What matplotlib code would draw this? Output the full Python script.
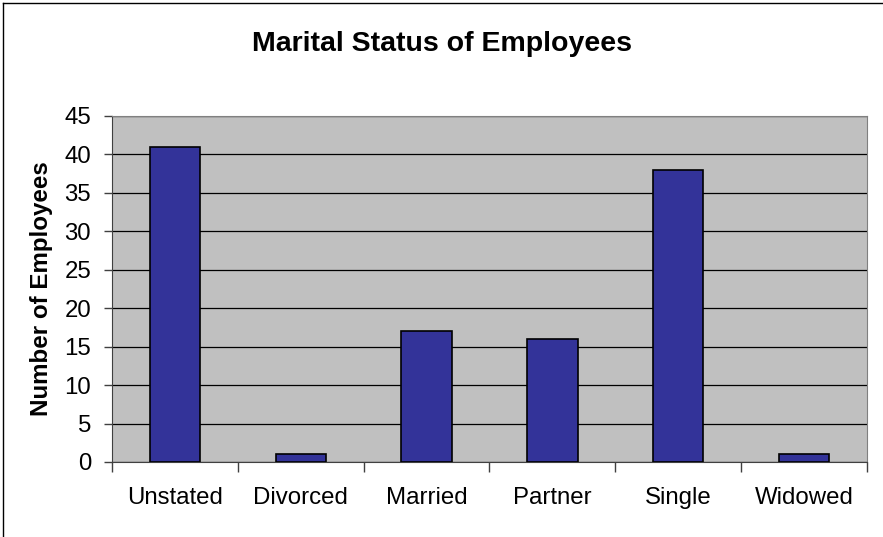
import matplotlib
matplotlib.use('Agg')
import matplotlib.pyplot as plt
import numpy as np

# data
categories = ['Unstated', 'Divorced', 'Married', 'Partner', 'Single', 'Widowed']
employees = [41, 1, 17, 16, 38, 1]
y_ticks = [0, 5, 10, 15, 20, 25, 30, 35, 40, 45]

plt.rcParams['font.family'] = ['Liberation Sans', 'DejaVu Sans']

fig = plt.figure(figsize=(8.83, 5.37), dpi=100)
ax = fig.add_axes([112 / 883, 1 - 462 / 537, 755 / 883, 346 / 537])
ax.set_facecolor('#c0c0c0')

x = np.arange(len(categories))
ax.bar(x, employees, width=0.4, color='#333399', edgecolor='black', linewidth=1.2, zorder=3)

ax.set_xlim(-0.5, len(categories) - 0.5)
ax.set_ylim(0, 45)
ax.set_yticks(y_ticks)
ax.yaxis.grid(True, color='black', linewidth=0.9, zorder=1)

# labels at the centres, tick marks at the borders between categories
ax.set_xticks(x)
ax.set_xticklabels(categories, fontsize=17.3)
ax.set_xticks(np.arange(len(categories) + 1) - 0.5, minor=True)
ax.tick_params(axis='x', which='major', length=0, pad=18)
ax.tick_params(axis='x', which='minor', length=7, width=1, color='#404040', direction='out')
ax.tick_params(axis='y', length=6, width=1, color='#404040', labelsize=17.3, pad=9)

for side in ['top', 'right']:
    ax.spines[side].set_color('#808080')
ax.spines['left'].set_color('#404040')
ax.spines['bottom'].set_color('#404040')

ax.set_ylabel('Number of Employees', fontsize=17.4, fontweight='bold', labelpad=8)
fig.text(0.5, 1 - 44 / 537, 'Marital Status of Employees', fontsize=20.5,
         fontweight='bold', ha='center', va='center')

# chart area border (only left and top are visible in the picture)
fig.add_artist(plt.Line2D([3 / 883, 3 / 883], [0, 1 - 3 / 537], transform=fig.transFigure, color='black', linewidth=1))
fig.add_artist(plt.Line2D([3 / 883, 1], [1 - 3 / 537, 1 - 3 / 537], transform=fig.transFigure, color='black', linewidth=1))

fig.savefig('out.png', dpi=100)
